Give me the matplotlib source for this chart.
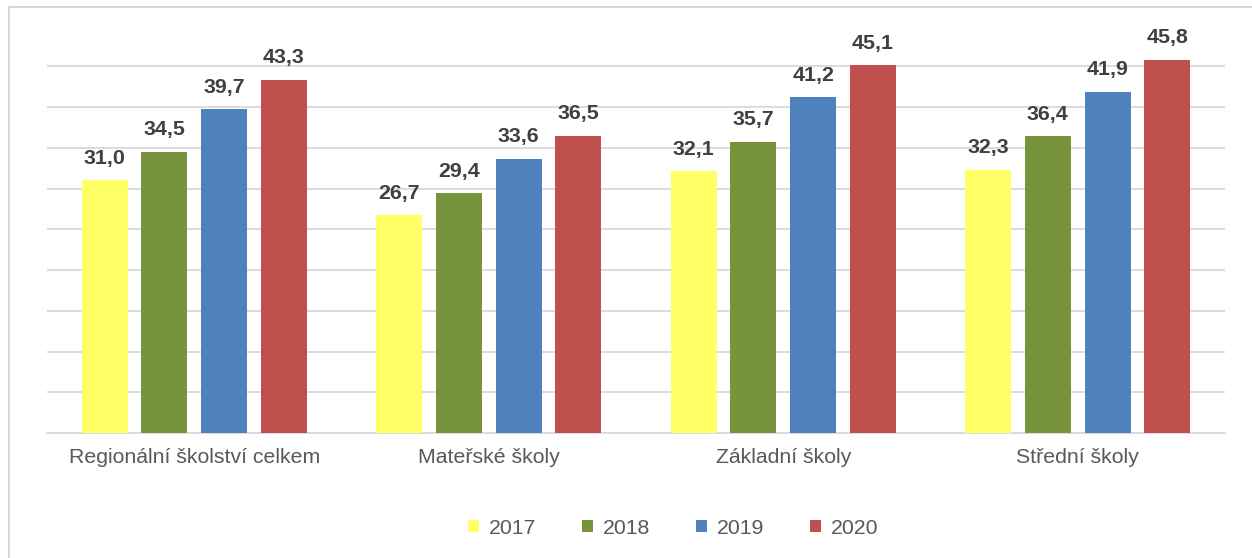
import numpy as np
import matplotlib.pyplot as plt
from matplotlib.patches import Rectangle

plt.rcParams['font.family'] = ['Liberation Sans', 'DejaVu Sans']

# data
categories = ['Regionální školství celkem', 'Mateřské školy', 'Základní školy', 'Střední školy']
years = ['2017', '2018', '2019', '2020']
v2017 = [31.0, 26.7, 32.1, 32.3]
v2018 = [34.5, 29.4, 35.7, 36.4]
v2019 = [39.7, 33.6, 41.2, 41.9]
v2020 = [43.3, 36.5, 45.1, 45.8]
series = [v2017, v2018, v2019, v2020]
colors = ['#FFFF66', '#77933C', '#4F81BD', '#C0504D']

W, H = 1252, 558
fig = plt.figure(figsize=(W / 100, H / 100), dpi=100)
ax = fig.add_axes([47 / W, 1 - 433 / H, (1225 - 47) / W, (433 - 25.5) / H])

x = np.arange(len(categories))
pitch = 0.203
width = 0.156

for i, (vals, c, yr) in enumerate(zip(series, colors, years)):
    pos = x + (i - 1.5) * pitch
    ax.bar(pos, vals, width=width, color=c, label=yr, zorder=3)
    # popisky hodnot nad sloupci
    for px, v in zip(pos, vals):
        ax.annotate(f'{v:.1f}'.replace('.', ','), xy=(px, v), xytext=(0, 12),
                    textcoords='offset points', ha='center', va='baseline',
                    fontsize=15.4, fontweight='bold', color='#404040')

ax.set_xlim(-0.5, 3.5)
ax.set_ylim(0, 50)
ax.set_yticks(np.arange(0, 50, 5))
ax.yaxis.grid(True, color='#D9D9D9', linewidth=1.3, zorder=0)
ax.tick_params(axis='y', left=False, labelleft=False)
ax.set_xticks(x)
ax.set_xticklabels(categories, fontsize=15.3, color='#595959')
ax.tick_params(axis='x', length=0, pad=11)
for s in ['top', 'right', 'left']:
    ax.spines[s].set_visible(False)
ax.spines['bottom'].set_color('#D9D9D9')
ax.spines['bottom'].set_linewidth(1.3)

fig.legend(loc='center', bbox_to_anchor=(673 / W, 1 - 528 / H), ncol=4,
           frameon=False, fontsize=15.3, labelcolor='#595959',
           handlelength=0.52, handleheight=0.52, handletextpad=0.47,
           columnspacing=2.15)

# rámeček grafu
fig.patches.append(Rectangle((9 / W, -0.1), 1.2, 1.1 - 7 / H, transform=fig.transFigure,
                             fill=False, edgecolor='#D0D0D0', linewidth=1.2))

fig.savefig('out.png', dpi=100)
